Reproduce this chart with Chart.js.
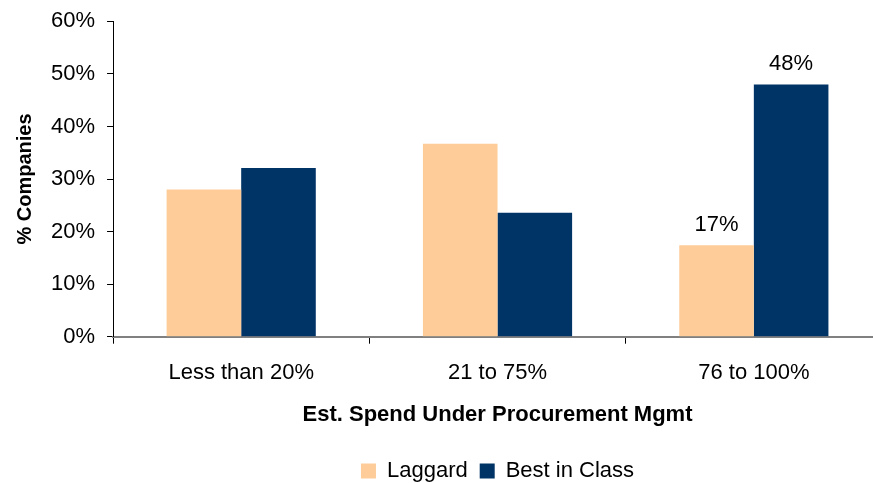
<!DOCTYPE html>
<html>
<head>
<meta charset="utf-8">
<title>Est. Spend Under Procurement Mgmt</title>
<script src="https://cdn.jsdelivr.net/npm/chart.js@4.4.1/dist/chart.umd.min.js"></script>
<style>
    html, body { margin: 0; padding: 0; background: #fff; overflow: hidden; }
    #wrap { width: 873px; height: 483px; overflow: hidden; }
</style>
</head>
<body>
<div id="wrap">
    <canvas id="spendChart" width="900" height="492"></canvas>
</div>
<script>
// categories along the x axis
var categories = ['Less than 20%', '21 to 75%', '76 to 100%'];

// % of companies in each group
var laggardValues = [28.0, 36.7, 17.4];
var bestValues = [32.1, 23.6, 48.0];

// value labels shown above the bars (only the last group has them)
var laggardLabels = [null, null, '17%'];
var bestLabels = [null, null, '48%'];

var yTicks = [0, 10, 20, 30, 40, 50, 60];

var FONT = "'Liberation Sans', Arial, sans-serif";

window.addEventListener('load', onLoad);

function onLoad(event) {
    drawChart();
}

//draws the little value labels over the bars
var barLabelPlugin = {
    id: 'barLabels',
    afterDatasetsDraw: function(chart) {
        var ctx = chart.ctx;
        ctx.save();
        ctx.font = '22px ' + FONT;
        ctx.fillStyle = '#000';
        ctx.textAlign = 'center';
        ctx.textBaseline = 'alphabetic';
        chart.data.datasets.forEach(function(ds, i) {
            var meta = chart.getDatasetMeta(i);
            meta.data.forEach(function(bar, j) {
                var txt = ds.valueLabels[j];
                if (txt) {
                    ctx.fillText(txt, bar.x, bar.y - 14);
                }
            });
        });
        ctx.restore();
    }
};

function drawChart() {
    var ctx = document.getElementById('spendChart').getContext('2d');

    window.myChart = new Chart(ctx, {
        type: 'bar',
        data: {
            labels: categories,
            datasets: [{
                label: 'Laggard',
                data: laggardValues,
                valueLabels: laggardLabels,
                backgroundColor: '#FDCC99',
                borderWidth: 0,
                categoryPercentage: 0.582,
                barPercentage: 1.0
            }, {
                label: 'Best in Class',
                data: bestValues,
                valueLabels: bestLabels,
                backgroundColor: '#003366',
                borderWidth: 0,
                categoryPercentage: 0.582,
                barPercentage: 1.0
            }]
        },
        options: {
            responsive: false,
            animation: false,
            devicePixelRatio: 1,
            layout: { padding: { top: 0, right: 18, bottom: 0, left: 0 } },
            plugins: {
                tooltip: { enabled: false },
                legend: {
                    position: 'bottom',
                    fullSize: false,
                    labels: {
                        font: { family: FONT, size: 22 },
                        color: '#000',
                        boxWidth: 15,
                        boxHeight: 15,
                        padding: 12
                    }
                }
            },
            scales: {
                x: {
                    grid: {
                        display: true,
                        drawOnChartArea: false,
                        tickLength: 7,
                        tickColor: '#000',
                        offset: true
                    },
                    border: { display: true, color: '#808080', width: 2 },
                    ticks: {
                        font: { family: FONT, size: 22 },
                        color: '#000',
                        padding: 16
                    },
                    title: {
                        display: true,
                        text: 'Est. Spend Under Procurement Mgmt',
                        font: { family: FONT, size: 22, weight: 'bold' },
                        color: '#000',
                        padding: { top: -0.5, bottom: 20 }
                    }
                },
                y: {
                    min: 0,
                    max: 60,
                    afterBuildTicks: function(axis) {
                        axis.ticks = yTicks.map(function(v) { return { value: v }; });
                    },
                    grid: {
                        display: true,
                        drawOnChartArea: false,
                        tickLength: 6,
                        tickColor: '#000'
                    },
                    border: { display: true, color: '#000', width: 1 },
                    ticks: {
                        font: { family: FONT, size: 22, lineHeight: 0.85 },
                        color: '#000',
                        padding: 12,
                        callback: function(v) { return v + '%'; }
                    },
                    title: {
                        display: true,
                        text: '% Companies',
                        font: { family: FONT, size: 20, weight: 'bold' },
                        color: '#000',
                        padding: { top: 13, bottom: 2 }
                    }
                }
            }
        },
        plugins: [barLabelPlugin]
    });
}
</script>
</body>
</html>
